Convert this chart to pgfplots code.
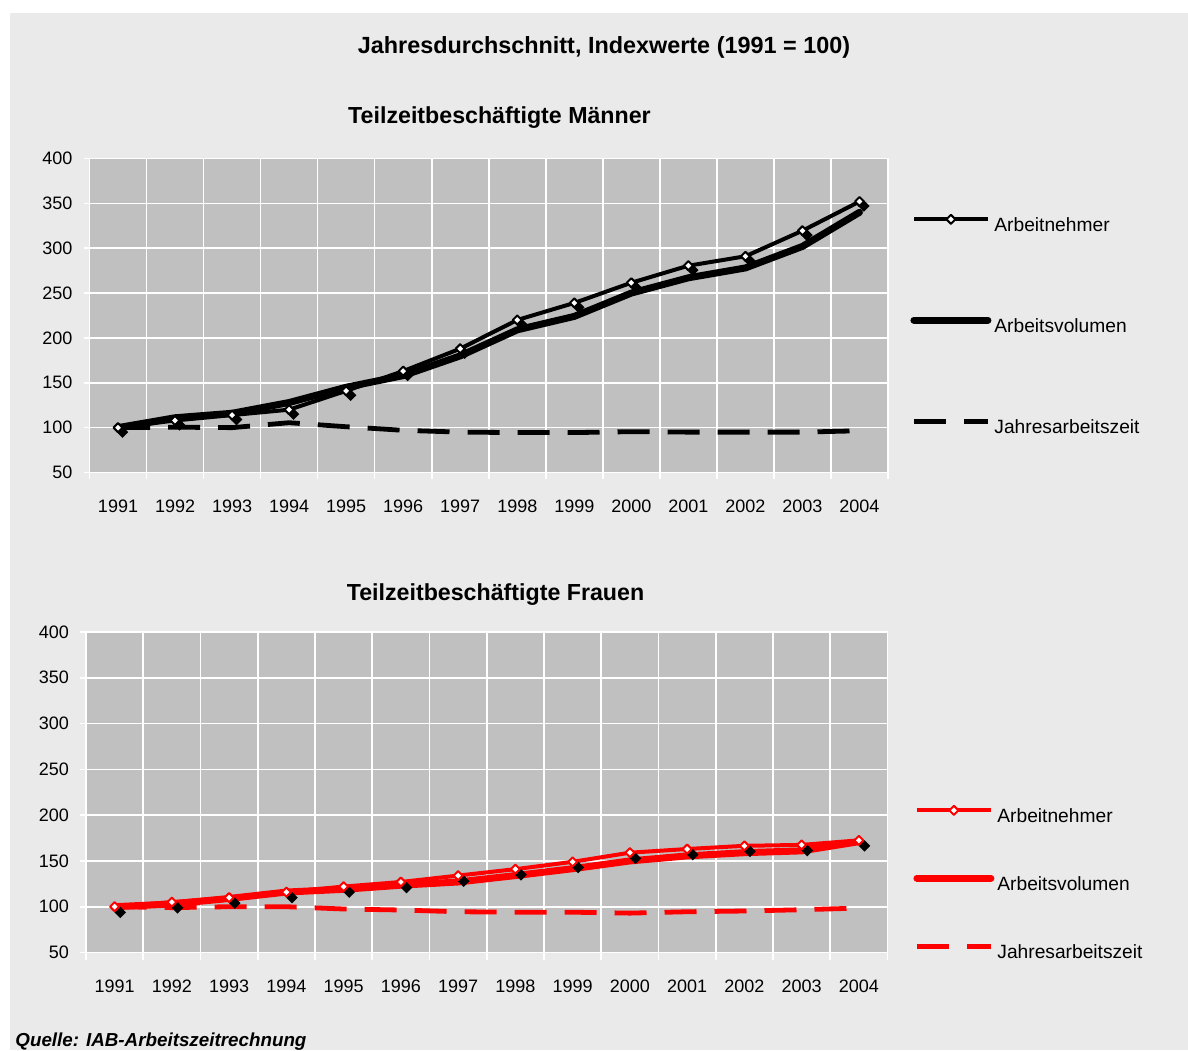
\documentclass[border=0pt]{standalone}
\usepackage{fontspec}
\setmainfont{Liberation Sans}
\usepackage{pgfplots}
\pgfplotsset{compat=1.18}
\definecolor{bgc}{HTML}{EAEAEA}
\definecolor{plotc}{HTML}{C0C0C0}

\pgfplotstableread{
x AN AV JAZ
0 100 100 100
1 108 111 100.5
2 114 116 100
3 120 128 105.5
4 141 145 101
5 163 158 97
6 188 180 95
7 220 209 94.5
8 239 224 94.5
9 261.5 250 95.5
10 280.5 267 95
11 291 278 95
12 319.5 302 95
13 352 340 96.5
}\maenner

\pgfplotstableread{
x AN AV JAZ
0 100 100 100
1 105 103 99
2 110 109 100
3 116 116 100
4 122 119 97.5
5 127 123.5 96.4
6 134 127 94.5
7 141 134 94
8 149 141.5 94
9 159 150 93
10 163 155.5 94.5
11 166.5 159 95.3
12 167.5 161 96.7
13 172.5 171 98.5
}\frauen

\pgfplotsset{
  teil/.style={
    scale only axis,
    xmin=-0.5, xmax=13.5, ymin=50, ymax=400,
    xtick={0,...,13},
    xticklabels={1991,1992,1993,1994,1995,1996,1997,1998,1999,2000,2001,2002,2003,2004},
    minor xtick={-0.5,0.5,...,13.5},
    ytick={50,100,...,400},
    axis x line*=bottom, axis y line*=left,
    axis line style={white, line width=0.8pt},
    axis background/.style={fill=plotc},
    xminorgrids=true, ymajorgrids=true, xmajorgrids=false,
    grid style={white, line width=0.8pt},
    minor grid style={white, line width=0.8pt},
    tick align=outside,
    major tick length=3pt, minor tick length=3.5pt,
    major x tick style={draw=none},
    minor x tick style={white, line width=0.8pt},
    y tick style={white, line width=0.8pt},
    tick label style={font=\fontsize{9}{10.8}\selectfont, text=black},
    /pgf/number format/assume math mode=true,
    yticklabel style={xshift=-2pt},
    xticklabel style={yshift=-7.3pt},
    legend cell align=left,
    legend style={draw=none, fill=none, inner sep=0pt, column sep=1.5pt,
       font=\fontsize{9.6}{11.5}\selectfont,
       nodes={inner xsep=0pt, inner ysep=2pt, text depth=0.15em}},
    legend image code/.code={
       \path (0pt,-6pt) (37pt,7pt);
       \draw[mark repeat=2, mark phase=2, #1] plot coordinates {(0pt,3.4pt) (18.5pt,3.4pt) (37pt,3.4pt)};
    },
  },
  an/.style={#1, line width=2pt, line join=round, mark=square*, mark size=1.6pt,
     mark options={fill=white, draw=#1, line width=1pt, rotate=45, solid}},
  av/.style={#1, line width=3.5pt, line join=round, line cap=round},
  jaz/.style={#1, line width=2.4pt, dash pattern=on 16pt off 9pt},
  shadow/.style={draw=none, mark=square*, mark size=1.65pt,
     mark options={fill=black, draw=black, line width=0.8pt, xshift=#1, yshift=-#1, rotate=45}},
}

\begin{document}
\begin{tikzpicture}
\useasboundingbox (0,0) rectangle (594pt,525pt);
\fill[white] (0,0) rectangle (594pt,525pt);
\fill[bgc] (5pt,0pt) rectangle (594pt,518.65pt);

\node[anchor=base, font=\fontsize{11.7}{14}\selectfont\bfseries] at (302pt,498.4pt) {Jahresdurchschnitt, Indexwerte (1991 = 100)};
\node[anchor=base, font=\fontsize{11.6}{14}\selectfont\bfseries] at (249.75pt,463pt) {Teilzeitbeschäftigte Männer};
\node[anchor=base, font=\fontsize{11.6}{14}\selectfont\bfseries] at (247.75pt,224.5pt) {Teilzeitbeschäftigte Frauen};
\node[anchor=base west, inner sep=0pt, font=\fontsize{9.4}{11}\selectfont\bfseries\itshape] at (7.5pt,1.75pt) {Quelle: IAB-Arbeitszeitrechnung};

\begin{axis}[teil, at={(44.75pt,288.75pt)}, anchor=south west, width=399.25pt, height=157pt,
   legend style={at={(1.02755,0.83694)}, anchor=north west, row sep=34.7pt}]
  \addlegendimage{an=black}
  \addlegendentry{Arbeitnehmer}
  \addlegendimage{av=black}
  \addlegendentry{Arbeitsvolumen}
  \addlegendimage{jaz=black}
  \addlegendentry{Jahresarbeitszeit}
  \addplot[shadow=2.2pt, forget plot] table[x=x, y=AN] {\maenner};
  \addplot[av=black, forget plot] table[x=x, y=AV] {\maenner};
  \addplot[jaz=black, forget plot] table[x=x, y=JAZ] {\maenner};
  \addplot[an=black, forget plot] table[x=x, y=AN] {\maenner};
\end{axis}

\begin{axis}[teil, at={(43pt,48.75pt)}, anchor=south west, width=400.75pt, height=160.25pt,
   legend style={at={(1.03182,0.47363)}, anchor=north west, row sep=18.2pt}]
  \addlegendimage{an=red}
  \addlegendentry{Arbeitnehmer}
  \addlegendimage{av=red}
  \addlegendentry{Arbeitsvolumen}
  \addlegendimage{jaz=red}
  \addlegendentry{Jahresarbeitszeit}
  \addplot[shadow=2.8pt, forget plot] table[x=x, y=AN] {\frauen};
  \addplot[av=red, forget plot] table[x=x, y=AV] {\frauen};
  \addplot[jaz=red, forget plot] table[x=x, y=JAZ] {\frauen};
  \addplot[an=red, forget plot] table[x=x, y=AN] {\frauen};
\end{axis}
\end{tikzpicture}
\end{document}
